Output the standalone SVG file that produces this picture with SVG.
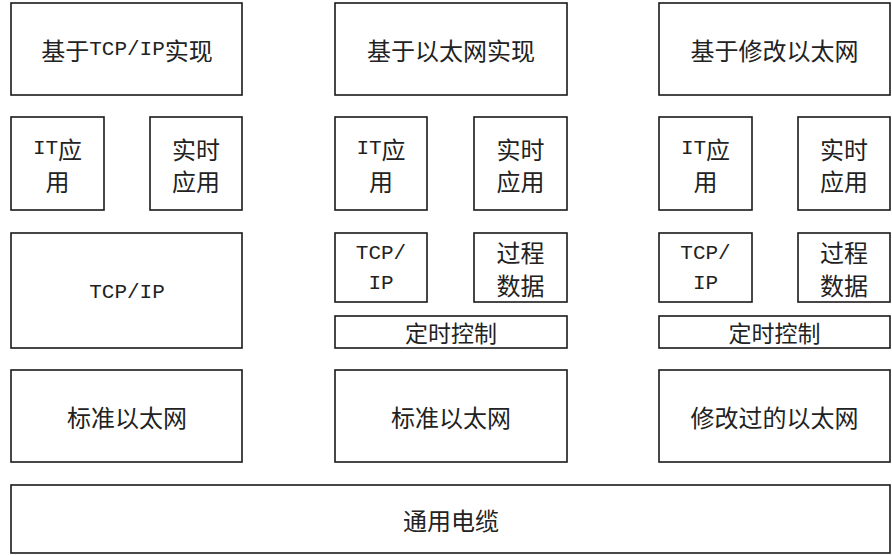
<svg xmlns="http://www.w3.org/2000/svg" width="892" height="555" viewBox="0 0 892 555">
<style>
rect{fill:#fff;stroke:#1a1a1a;stroke-width:1.6}
text{font-family:"Noto Sans CJK SC","Liberation Sans",sans-serif;font-size:24px;fill:#222;text-anchor:middle;dominant-baseline:central}
.l{font-family:"Liberation Mono","Noto Sans CJK SC",monospace;font-size:21px}
.c{font-size:23px}
</style>
<rect x="0" y="0" width="892" height="555" style="fill:#fff;stroke:none"/>
<g id="col1">
<g id="n1_top"><rect x="11" y="3" width="231" height="92"/><text x="127" y="49">基于<tspan class="l">TCP/IP</tspan>实现</text></g>
<g id="n1_it"><rect x="11" y="117" width="93" height="93"/><text x="57.5" y="148"><tspan class="l">IT</tspan>应</text><text x="57.5" y="180">用</text></g>
<g id="n1_rt"><rect x="150" y="117" width="92" height="93"/><text x="196" y="148">实时</text><text x="196" y="180">应用</text></g>
<g id="n1_tcp"><rect x="11" y="233" width="231" height="115"/><text x="127" y="292" class="l">TCP/IP</text></g>
<g id="n1_eth"><rect x="11" y="370" width="231" height="92"/><text x="127" y="416">标准以太网</text></g>
</g>
<g id="col2">
<g id="n2_top"><rect x="335" y="3" width="232" height="92"/><text x="451" y="49">基于以太网实现</text></g>
<g id="n2_it"><rect x="335" y="117" width="92" height="93"/><text x="381" y="148"><tspan class="l">IT</tspan>应</text><text x="381" y="180">用</text></g>
<g id="n2_rt"><rect x="474" y="117" width="93" height="93"/><text x="520.5" y="148">实时</text><text x="520.5" y="180">应用</text></g>
<g id="n2_tcp"><rect x="335" y="233" width="92" height="69"/><text x="381" y="253" class="l">TCP/</text><text x="381" y="283" class="l">IP</text></g>
<g id="n2_pd"><rect x="474" y="233" width="93" height="69"/><text x="520.5" y="251">过程</text><text x="520.5" y="284">数据</text></g>
<g id="n2_tc"><rect x="335" y="316" width="232" height="32"/><text x="451" y="332" class="c">定时控制</text></g>
<g id="n2_eth"><rect x="335" y="370" width="232" height="92"/><text x="451" y="416">标准以太网</text></g>
</g>
<g id="col3">
<g id="n3_top"><rect x="659" y="3" width="231" height="92"/><text x="774.5" y="49">基于修改以太网</text></g>
<g id="n3_it"><rect x="659" y="117" width="93" height="93"/><text x="705.5" y="148"><tspan class="l">IT</tspan>应</text><text x="705.5" y="180">用</text></g>
<g id="n3_rt"><rect x="798" y="117" width="92" height="93"/><text x="844" y="148">实时</text><text x="844" y="180">应用</text></g>
<g id="n3_tcp"><rect x="659" y="233" width="93" height="69"/><text x="705.5" y="253" class="l">TCP/</text><text x="705.5" y="283" class="l">IP</text></g>
<g id="n3_pd"><rect x="798" y="233" width="92" height="69"/><text x="844" y="251">过程</text><text x="844" y="284">数据</text></g>
<g id="n3_tc"><rect x="659" y="316" width="231" height="32"/><text x="774.5" y="332" class="c">定时控制</text></g>
<g id="n3_eth"><rect x="659" y="370" width="231" height="92"/><text x="774.5" y="416">修改过的以太网</text></g>
</g>
<g id="n_cable"><rect x="11" y="485" width="879" height="68"/><text x="451" y="519">通用电缆</text></g>
<g id="connectors"></g>
</svg>
